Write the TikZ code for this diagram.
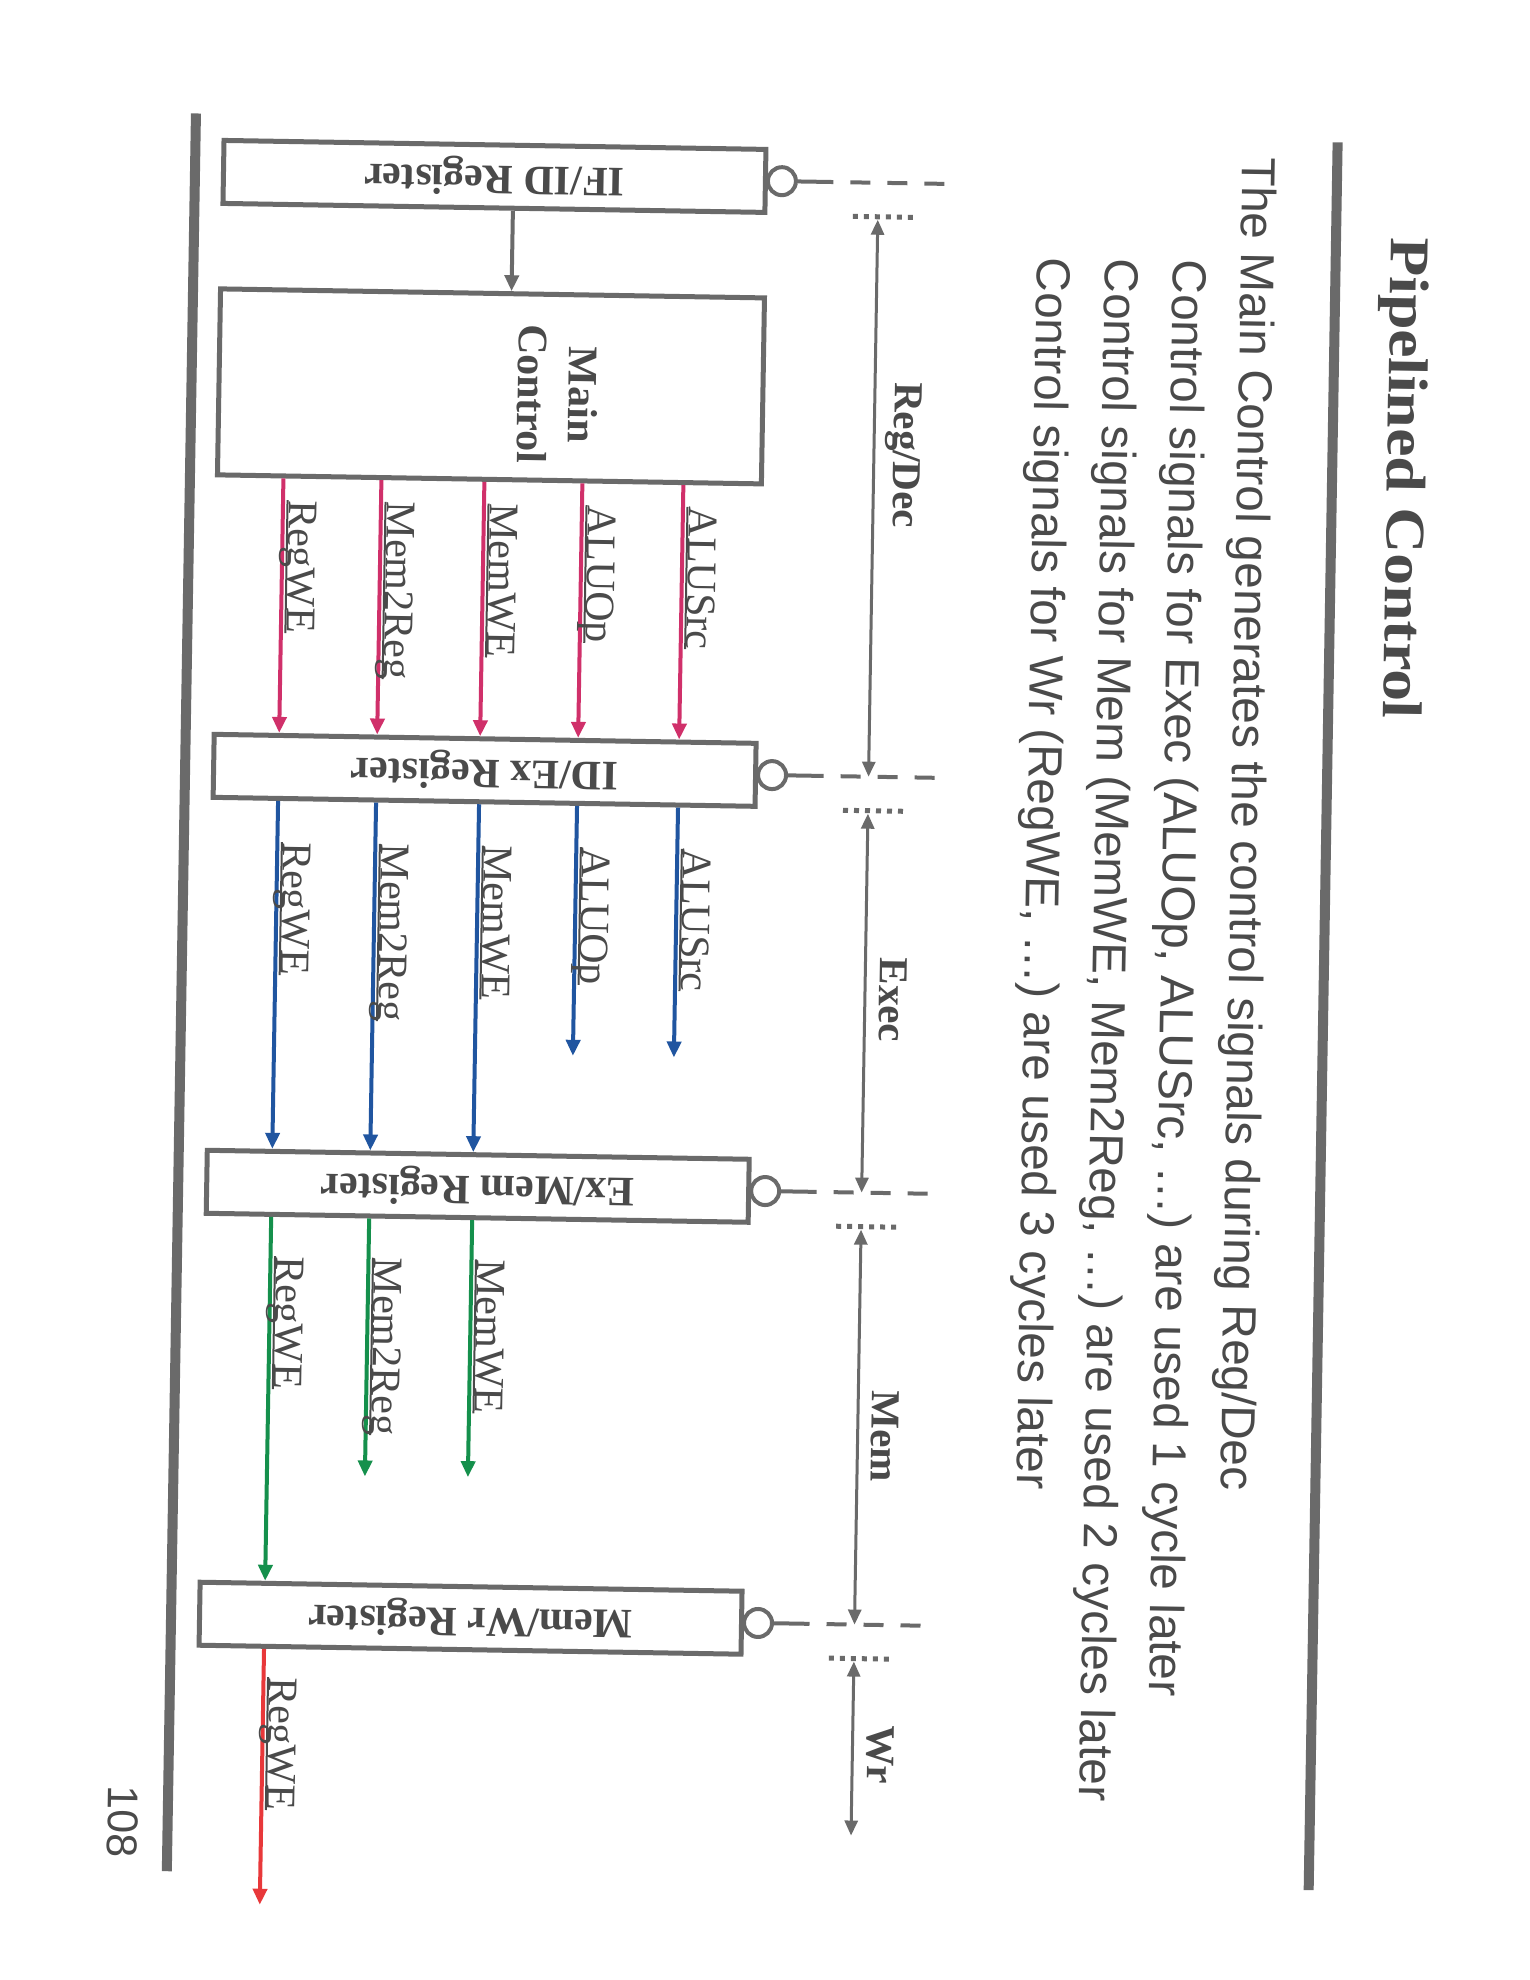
\documentclass[tikz,border=0pt]{standalone}
\usepackage{fontspec}
\setmainfont{Liberation Serif}
\newfontfamily\slidefont{Liberation Sans}
\usepackage{graphicx}
\usetikzlibrary{positioning,arrows.meta}
\definecolor{ink}{HTML}{4A4A4A}
\definecolor{frame}{HTML}{6A6A6A}
\definecolor{decpink}{HTML}{D0306A}
\definecolor{exblue}{HTML}{2055A0}
\definecolor{memgreen}{HTML}{15904C}
\definecolor{wrred}{HTML}{E8383A}
\newsavebox\sigbox
\newcommand{\signame}[1]{\sbox\sigbox{#1}\rlap{\rule[-2.5pt]{\wd\sigbox}{2pt}}\usebox\sigbox}

\begin{document}
\begin{tikzpicture}[x=1pt, y=-1pt,
    regbox/.style={draw=frame, line width=5pt, fill=white, minimum width=542pt, minimum height=63pt, inner sep=0pt, text=ink, font=\fontsize{42}{50}\selectfont\bfseries},
    ctlbox/.style={draw=frame, line width=5pt, fill=white, minimum width=544pt, minimum height=186pt, inner sep=0pt},
    ctltext/.style={rotate=-90, align=center, inner sep=0pt, text=ink, font=\fontsize{42}{51}\selectfont\bfseries},
    clk/.style={circle, draw=frame, line width=4pt, fill=white, minimum size=28pt, inner sep=0pt},
    clkline/.style={draw=frame, line width=4pt, dash pattern=on 35.5pt off 17pt on 20pt off 17pt on 20pt off 17pt on 20pt off 200pt},
    tickbar/.style={draw=frame, line width=5pt, dash pattern=on 5pt off 6pt},
    sidebar/.style={draw=frame, line width=10pt},
    flow/.style={draw=frame, line width=4pt, -{Triangle[length=16pt,width=14pt]}},
    stagearrow/.style={draw=frame, line width=3pt, {Triangle[length=15pt,width=13pt]}-{Triangle[length=15pt,width=13pt]}, shorten <=3pt},
    sigarrow/.style={line width=4pt, -{Triangle[length=16pt,width=14pt]}},
    decarrow/.style={sigarrow, draw=decpink},
    exarrow/.style={sigarrow, draw=exblue},
    memarrow/.style={sigarrow, draw=memgreen},
    wrarrow/.style={sigarrow, draw=wrred},
    siglabel/.style={rotate=-90, anchor=base west, inner sep=0pt, text=ink, font=\fontsize{42}{50}\selectfont},
    stagelabel/.style={rotate=-90, inner sep=0pt, text=ink, font=\fontsize{41}{50}\selectfont\bfseries},
    bodyline/.style={rotate=-90, anchor=base west, inner sep=0pt, text=ink, font=\slidefont\fontsize{47.7}{57}\selectfont},
    headingtext/.style={rotate=-90, yscale=0.88, anchor=base west, inner sep=0pt, text=ink, font=\fontsize{63.6}{70}\selectfont\bfseries},
    pagenum/.style={rotate=-90, anchor=base west, inner sep=0pt, text=ink, font=\slidefont\fontsize{43}{50}\selectfont}]
    \fill [white] (0, 0) rectangle (1530, 1980);
    \useasboundingbox (0, 0) rectangle (1530, 1980);
    \begin{scope}[transform canvas={rotate around={-0.95:(765,990)}}]
    \draw [sidebar] (181.5, 123) -- (181.5, 1881);
    \draw [sidebar] (1323.5, 133) -- (1323.5, 1881);

    \path (1379,  227) node [headingtext] (heading) {Pipelined Control};
    \path (1229,  149) node [bodyline] (intro) {The Main Control generates the control signals during Reg/Dec};
    \path (1161,  253) node [bodyline] (execnote) {Control signals for Exec (ALUOp, ALUSrc, …) are used 1 cycle later};
    \path (1093,  253) node [bodyline] (memnote) {Control signals for Mem (MemWE, Mem2Reg, …) are used 2 cycles later};
    \path (1025,  253) node [bodyline] (wrnote) {Control signals for Wr (RegWE, …) are used 3 cycles later};
    \path ( 122, 1796) node [pagenum] (page) {108};

    \path ( 481,  181) node [regbox] (ifid) {\rotatebox{180}{IF/ID Register}};
    \path ( 481,  391) node [ctlbox] (main) {};
    \path ( 548,  398) node [ctltext] (maintext) {Main\\Control};
    \path ( 481,  775) node [regbox] (idex) {\rotatebox{180}{ID/Ex Register}};
    \path ( 481, 1191) node [regbox] (exmem) {\rotatebox{180}{Ex/Mem Register}};
    \path ( 481, 1623) node [regbox] (memwr) {\rotatebox{180}{Mem/Wr Register}};

    \node [clk, right=-2pt of ifid] (ifidclk) {};
    \node [clk, right=-2pt of idex] (idexclk) {};
    \node [clk, right=-2pt of exmem] (exmemclk) {};
    \node [clk, right=-2pt of memwr] (memwrclk) {};

    \coordinate (decode) at (500, 0);
    \coordinate (regwe) at (275, 0);
    \coordinate (memtoreg) at (373, 0);
    \coordinate (memwe) at (476, 0);
    \coordinate (aluop) at (574, 0);
    \coordinate (alusrc) at (675, 0);
    \coordinate (stage) at (865, 0);
    \coordinate (barl) at (840, 0);
    \coordinate (barr) at (900, 0);
    \coordinate (tick) at (931, 0);
    \coordinate (aluopend) at (574, 1059);
    \coordinate (alusrcend) at (675, 1059);
    \coordinate (memtoregend) at (373, 1483);
    \coordinate (memweend) at (476, 1482);
    \coordinate (regweend) at (275, 1913);
    \coordinate (wrend) at (865, 1834);

    \draw [flow] (ifid.south -| decode) -- (main.north -| decode);

    \draw [clkline] (ifidclk) -- (ifidclk -| tick);
    \draw [clkline] (idexclk) -- (idexclk -| tick);
    \draw [clkline] (exmemclk) -- (exmemclk -| tick);
    \draw [clkline] (memwrclk) -- (memwrclk -| tick);
    \draw [tickbar] (ifid.south -| barl) -- (ifid.south -| barr);
    \draw [tickbar] (idex.south -| barl) -- (idex.south -| barr);
    \draw [tickbar] (exmem.south -| barl) -- (exmem.south -| barr);
    \draw [tickbar] (memwr.south -| barl) -- (memwr.south -| barr);

    \draw [stagearrow] (ifid.south -| stage) -- (idexclk -| stage);
    \draw [stagearrow] (idex.south -| stage) -- (exmemclk -| stage);
    \draw [stagearrow] (exmem.south -| stage) -- (memwrclk -| stage);
    \draw [stagearrow] (memwr.south -| stage) -- (wrend);
    \path ( 894,  453) node [stagelabel] (regdec) {Reg/Dec};
    \path ( 893,  998) node [stagelabel] (exec) {Exec};
    \path ( 892, 1434) node [stagelabel] (mem) {Mem};
    \path ( 893, 1753) node [stagelabel] (wr) {Wr};

    \draw [decarrow] (main.south -| regwe) -- (idex.north -| regwe);
    \draw [decarrow] (main.south -| memtoreg) -- (idex.north -| memtoreg);
    \draw [decarrow] (main.south -| memwe) -- (idex.north -| memwe);
    \draw [decarrow] (main.south -| aluop) -- (idex.north -| aluop);
    \draw [decarrow] (main.south -| alusrc) -- (idex.north -| alusrc);
    \path ( 281,  508) node [siglabel] (decregwe) {\signame{RegWE}};
    \path ( 379,  508) node [siglabel] (decmemtoreg) {\signame{Mem2Reg}};
    \path ( 482,  508) node [siglabel] (decmemwe) {\signame{MemWE}};
    \path ( 580,  508) node [siglabel] (decaluop) {\signame{ALUOp}};
    \path ( 681,  508) node [siglabel] (decalusrc) {\signame{ALUSrc}};

    \draw [exarrow] (idex.south -| regwe) -- (exmem.north -| regwe);
    \draw [exarrow] (idex.south -| memtoreg) -- (exmem.north -| memtoreg);
    \draw [exarrow] (idex.south -| memwe) -- (exmem.north -| memwe);
    \draw [exarrow] (idex.south -| aluop) -- (aluopend);
    \draw [exarrow] (idex.south -| alusrc) -- (alusrcend);
    \path ( 281,  850) node [siglabel] (exregwe) {\signame{RegWE}};
    \path ( 379,  850) node [siglabel] (exmemtoreg) {\signame{Mem2Reg}};
    \path ( 482,  850) node [siglabel] (exmemwe) {\signame{MemWE}};
    \path ( 580,  850) node [siglabel] (exaluop) {\signame{ALUOp}};
    \path ( 681,  850) node [siglabel] (exalusrc) {\signame{ALUSrc}};

    \draw [memarrow] (exmem.south -| regwe) -- (memwr.north -| regwe);
    \draw [memarrow] (exmem.south -| memtoreg) -- (memtoregend);
    \draw [memarrow] (exmem.south -| memwe) -- (memweend);
    \path ( 281, 1264) node [siglabel] (memregwe) {\signame{RegWE}};
    \path ( 379, 1264) node [siglabel] (memmemtoreg) {\signame{Mem2Reg}};
    \path ( 482, 1264) node [siglabel] (memmemwe) {\signame{MemWE}};

    \draw [wrarrow] (memwr.south -| regwe) -- (regweend);
    \path ( 281, 1685) node [siglabel] (wrregwe) {\signame{RegWE}};
    \end{scope}
\end{tikzpicture}
\end{document}
